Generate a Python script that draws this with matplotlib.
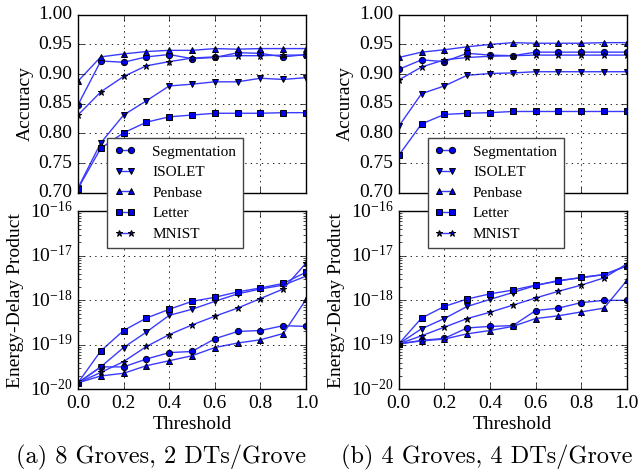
import matplotlib
matplotlib.use("Agg")
import matplotlib.pyplot as plt
import numpy as np
from matplotlib.ticker import FormatStrFormatter, LogLocator

plt.style.use("classic")
plt.rcParams["font.family"] = ["Liberation Serif", "DejaVu Serif"]
plt.rcParams["mathtext.fontset"] = "stix"

thresholds = [0.0, 0.1, 0.2, 0.3, 0.4, 0.5, 0.6, 0.7, 0.8, 0.9, 1.0]
datasets = ["Segmentation", "ISOLET", "Penbase", "Letter", "MNIST"]
markers = ["o", "v", "^", "s", "*"]

# (a) 8 groves, 2 DTs/grove
acc_a = {
    "Segmentation": [0.848, 0.922, 0.920, 0.929, 0.933, 0.926, 0.928, 0.936, 0.935, 0.929, 0.933],
    "ISOLET": [0.708, 0.784, 0.831, 0.855, 0.880, 0.883, 0.887, 0.887, 0.893, 0.891, 0.894],
    "Penbase": [0.888, 0.929, 0.934, 0.938, 0.940, 0.940, 0.943, 0.942, 0.943, 0.943, 0.943],
    "Letter": [0.707, 0.775, 0.801, 0.819, 0.828, 0.831, 0.834, 0.834, 0.834, 0.835, 0.835],
    "MNIST": [0.831, 0.870, 0.896, 0.914, 0.921, 0.927, 0.929, 0.931, 0.931, 0.932, 0.932],
}
edp_a = {
    "Segmentation": [1.4e-20, 3.2e-20, 3.2e-20, 4.8e-20, 6.7e-20, 7.1e-20, 1.37e-19, 2.0e-19, 2.1e-19, 2.7e-19, 2.6e-19],
    "ISOLET": [1.4e-20, 3.2e-20, 8.7e-20, 1.94e-19, 4.6e-19, 6.3e-19, 9.5e-19, 1.4e-18, 1.8e-18, 2.2e-18, 3.5e-18],
    "Penbase": [1.4e-20, 2.0e-20, 2.3e-20, 3.4e-20, 4.4e-20, 5.7e-20, 8.7e-20, 1.1e-19, 1.3e-19, 1.8e-19, 1.05e-18],
    "Letter": [1.4e-20, 7.3e-20, 2.1e-19, 4.0e-19, 6.3e-19, 9.5e-19, 1.17e-18, 1.55e-18, 1.9e-18, 2.4e-18, 4.3e-18],
    "MNIST": [1.4e-20, 2.4e-20, 4.2e-20, 9.2e-20, 1.7e-19, 2.8e-19, 4.4e-19, 6.7e-19, 1.1e-18, 1.8e-18, 6.9e-18],
}

# (b) 4 groves, 4 DTs/grove
acc_b = {
    "Segmentation": [0.908, 0.924, 0.921, 0.935, 0.932, 0.931, 0.937, 0.937, 0.937, 0.937, 0.937],
    "ISOLET": [0.812, 0.867, 0.880, 0.898, 0.901, 0.902, 0.904, 0.904, 0.904, 0.904, 0.904],
    "Penbase": [0.928, 0.937, 0.941, 0.946, 0.950, 0.953, 0.952, 0.952, 0.952, 0.953, 0.953],
    "Letter": [0.763, 0.816, 0.832, 0.834, 0.835, 0.837, 0.837, 0.837, 0.837, 0.837, 0.837],
    "MNIST": [0.890, 0.912, 0.924, 0.928, 0.930, 0.931, 0.932, 0.932, 0.932, 0.932, 0.932],
}
edp_b = {
    "Segmentation": [1.05e-19, 1.26e-19, 1.4e-19, 2.4e-19, 2.6e-19, 2.7e-19, 5.9e-19, 6.7e-19, 8.9e-19, 1.0e-18, 1.0e-18],
    "ISOLET": [1.05e-19, 2.3e-19, 3.9e-19, 7.3e-19, 1.05e-18, 1.5e-18, 2.15e-18, 2.8e-18, 3.2e-18, 3.8e-18, 6.0e-18],
    "Penbase": [1.05e-19, 1.23e-19, 1.35e-19, 1.77e-19, 2.1e-19, 2.6e-19, 3.9e-19, 4.5e-19, 5.5e-19, 6.7e-19, 2.8e-18],
    "Letter": [1.05e-19, 4.0e-19, 7.3e-19, 1.07e-18, 1.4e-18, 1.7e-18, 2.2e-18, 2.7e-18, 3.3e-18, 3.8e-18, 5.9e-18],
    "MNIST": [1.05e-19, 1.6e-19, 2.5e-19, 3.9e-19, 5.4e-19, 7.8e-19, 1.13e-18, 1.6e-18, 2.2e-18, 3.2e-18, 6.6e-18],
}

captions = ["(a) 8 Groves, 2 DTs/Grove", "(b) 4 Groves, 4 DTs/Grove"]

fig = plt.figure(figsize=(6.39, 4.76), dpi=100, facecolor="white")

lefts = [0.122, 0.624]
width = 0.357
top_b, bot_b, h = 0.595, 0.182, 0.374
caption_x = [0.252, 0.761]

for col, (acc, edp) in enumerate([(acc_a, edp_a), (acc_b, edp_b)]):
    ax1 = fig.add_axes([lefts[col], top_b, width, h])
    ax2 = fig.add_axes([lefts[col], bot_b, width, h])

    handles = []
    for name, mk in zip(datasets, markers):
        ms = 5 if mk == "*" else 4.5
        style = dict(color="#3a3aff", lw=1.0, marker=mk, markersize=ms,
                     markerfacecolor="#0000ee", markeredgecolor="k",
                     markeredgewidth=0.7)
        h_, = ax1.plot(thresholds, acc[name], label=name, **style)
        ax2.plot(thresholds, edp[name], **style)
        handles.append(h_)

    ax1.set_xlim(0, 1)
    ax1.set_ylim(0.70, 1.00)
    ax1.set_yticks(np.arange(0.70, 1.001, 0.05))
    ax1.yaxis.set_major_formatter(FormatStrFormatter("%.2f"))
    ax1.set_xticks([0, 0.2, 0.4, 0.6, 0.8, 1.0])
    ax1.set_xticklabels([])
    ax1.grid(True, color="k", linestyle=":", linewidth=0.6)
    ax1.set_ylabel("Accuracy", fontsize=14)
    ax1.yaxis.set_label_coords(-0.195, 0.5)
    ax1.tick_params(labelsize=14)

    ax2.set_yscale("log")
    ax2.set_xlim(0, 1)
    ax2.set_ylim(1e-20, 1e-16)
    ax2.yaxis.set_major_locator(LogLocator(base=10, numticks=10))
    ax2.set_xticks([0, 0.2, 0.4, 0.6, 0.8, 1.0])
    ax2.xaxis.set_major_formatter(FormatStrFormatter("%.1f"))
    ax2.grid(True, which="major", color="k", linestyle=":", linewidth=0.6)
    ax2.set_ylabel("Energy-Delay Product", fontsize=14)
    ax2.yaxis.set_label_coords(-0.235, 0.5)
    ax2.set_xlabel("Threshold", fontsize=14, labelpad=3)
    ax2.tick_params(labelsize=14)

    leg = fig.legend(handles=handles, loc="upper left", fontsize=11, numpoints=2,
                     bbox_to_anchor=(lefts[col] + 0.128 * width, top_b + 0.307 * h),
                     borderaxespad=0, frameon=True, fancybox=False, borderpad=0.45,
                     labelspacing=0.45, handlelength=1.4, handletextpad=1.1)
    leg.get_frame().set_edgecolor("#444444")
    leg.get_frame().set_linewidth(1.0)

    fig.text(caption_x[col], 0.038, captions[col], family="cmr10", fontsize=17.5,
             ha="center", va="center")

fig.savefig("out.png", dpi=100, facecolor="white")
